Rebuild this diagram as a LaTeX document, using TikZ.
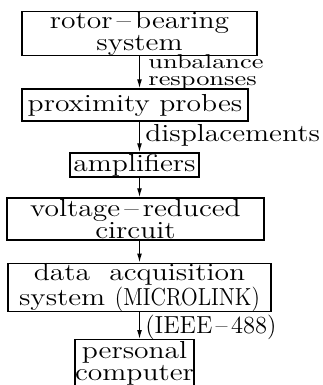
\documentclass[tikz,border=0pt]{standalone}
\usepackage{graphicx}
\usepackage{fontspec}
\setmainfont{Latin Modern Roman}[FakeStretch=1.2]
\usepackage{tikz}
\usetikzlibrary{arrows.meta, positioning}
\newcommand{\blkfont}{\fontsize{12.3}{10.8}\selectfont\lineskiplimit-20pt\relax}
\newcommand{\lblfont}{\fontsize{10}{8.2}\selectfont\lineskiplimit-20pt\relax}

\begin{document}
\begin{tikzpicture}[x=0.5pt, y=-0.5pt,
    blk/.style={draw, line width=0.7pt, inner xsep=0pt, inner ysep=0pt, align=center, font=\blkfont},
    lbl/.style={inner sep=0pt, align=left, font=\lblfont},
    flow/.style={-{Latex[length=4.5pt, width=2.4pt]}, line width=0.55pt}]
    \useasboundingbox (0,0) rectangle (322,385);
    \coordinate (axis) at (139.5,0);

    \node[blk, minimum width=117.5pt, minimum height=20.5pt] (rotor) at (139.5,33.5) {rotor\,--\,bearing\\system};
    \node[blk, minimum width=113pt, minimum height=16pt] (probes) at (135,105) {proximity probes};
    \node[blk, minimum width=64.5pt, minimum height=12pt] (amps) at (134.5,165) {amplifiers};
    \node[blk, minimum width=128.5pt, minimum height=21pt] (circuit) at (135.5,219) {voltage\,--\,reduced\\circuit};
    \node[blk, minimum width=131.5pt, minimum height=23pt, font=\fontsize{12.3}{11}\selectfont] (daq) at (139.5,287.5) {data\ \ acquisition\\system\ \scalebox{0.74}[1]{(MICROLINK)}};
    \node[blk, minimum width=59.5pt, inner ysep=1pt, anchor=north, font=\fontsize{12.3}{11}\selectfont] (pc) at (134.5,339) {personal\\computer};

    \draw[flow] (rotor.south -| axis) -- (probes.north -| axis);
    \draw[flow] (probes.south -| axis) -- (amps.north -| axis);
    \draw[flow] (amps.south -| axis) -- (circuit.north -| axis);
    \draw[flow] (circuit.south -| axis) -- (daq.north -| axis);
    \draw[flow] (daq.south -| axis) -- (pc.north -| axis);

    \node[lbl, anchor=north west] (unbal) at (148,54.5) {\scalebox{1.1}[1]{unbalance}\\\scalebox{1.1}[1]{responses}};
    \node[lbl, anchor=base west, font=\blkfont] (disp) at (145,141) {displacements};
    \node[lbl, anchor=base west, font=\blkfont] (ieee) at (145,333) {\scalebox{0.83}[1]{(IEEE\,--\,488)}};
\end{tikzpicture}
\end{document}
